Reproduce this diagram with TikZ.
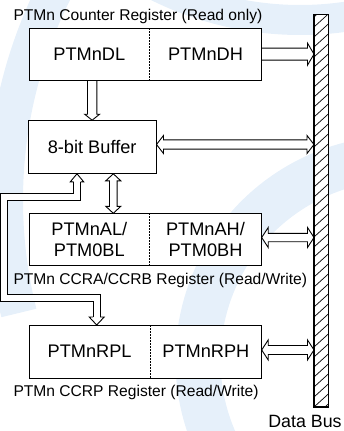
\documentclass[tikz,border=0pt]{standalone}
\usepackage{fontspec}
\setmainfont{Liberation Sans}
\usetikzlibrary{calc}
\pgfdeclarelayer{wm}
\pgfdeclarelayer{arrlayer}
\pgfsetlayers{wm,arrlayer,main}
\definecolor{wmblue}{HTML}{E6F0FA}

% horizontal arrow, head on the right: from #1 to tip #2, shaft half #3, head half #4, head length #5
\newcommand\ArrR[5]{%
  \path[arrsty] let \p1=(#1), \p2=(#2) in
   (\x1,\y2+#3pt) -- (\x2-#5pt,\y2+#3pt) -- (\x2-#5pt,\y2+#4pt) -- (\x2,\y2)
   -- (\x2-#5pt,\y2-#4pt) -- (\x2-#5pt,\y2-#3pt) -- (\x1,\y2-#3pt);}
% horizontal arrow, heads on both ends
\newcommand\ArrLR[5]{%
  \path[arrsty] let \p1=(#1), \p2=(#2) in
   (\x1,\y1) -- (\x1+#5pt,\y1+#4pt) -- (\x1+#5pt,\y1+#3pt) -- (\x2-#5pt,\y1+#3pt)
   -- (\x2-#5pt,\y1+#4pt) -- (\x2,\y1) -- (\x2-#5pt,\y1-#4pt) -- (\x2-#5pt,\y1-#3pt)
   -- (\x1+#5pt,\y1-#3pt) -- (\x1+#5pt,\y1-#4pt) -- cycle;}
% vertical arrow, head at the bottom
\newcommand\ArrD[5]{%
  \path[arrsty] let \p1=(#1), \p2=(#2) in
   (\x2+#3pt,\y1) -- (\x2+#3pt,\y2+#5pt) -- (\x2+#4pt,\y2+#5pt) -- (\x2,\y2)
   -- (\x2-#4pt,\y2+#5pt) -- (\x2-#3pt,\y2+#5pt) -- (\x2-#3pt,\y1);}
% vertical arrow, heads on both ends
\newcommand\ArrUD[5]{%
  \path[arrsty] let \p1=(#1), \p2=(#2) in
   (\x1,\y1) -- (\x1+#4pt,\y1-#5pt) -- (\x1+#3pt,\y1-#5pt) -- (\x1+#3pt,\y2+#5pt)
   -- (\x1+#4pt,\y2+#5pt) -- (\x1,\y2) -- (\x1-#4pt,\y2+#5pt) -- (\x1-#3pt,\y2+#5pt)
   -- (\x1-#3pt,\y1-#5pt) -- (\x1-#4pt,\y1-#5pt) -- cycle;}

\begin{document}
\begin{tikzpicture}[x=1pt,y=-1pt,
  half/.style={inner sep=0pt, outer sep=0pt, align=center, fill=white,
    font=\fontsize{18.2}{21.7}\selectfont},
  lbl/.style={inner sep=0pt, anchor=base west, font=\fontsize{15.6}{18}\selectfont},
  arrsty/.style={draw=black, fill=white, line width=0.9pt, line join=miter},
  boxline/.style={draw=black, line width=1pt},
  divider/.style={draw=black, line width=0.9pt, dash pattern=on 1.5pt off 1.5pt},
  wmband/.style={draw=wmblue, line cap=butt}]
\useasboundingbox (0,0) rectangle (343,431);

% ---- register halves and buffer ----
\node[half, minimum width=120pt, minimum height=51.7pt] (dl) at (89.3,54.15) {PTMnDL};
\node[half, minimum width=112.4pt, minimum height=51.7pt] (dh) at (205.5,54.15) {PTMnDH};
\node[boxline, fill=white, inner sep=0pt, minimum width=127.7pt, minimum height=52.6pt,
  font=\fontsize{18.2}{21.7}\selectfont] (buf) at (92.15,147) {8-bit Buffer};
\node[half, minimum width=120pt, minimum height=52.4pt] (al) at (89.3,239.5) {PTMnAL/\\PTM0BL};
\node[half, minimum width=112.4pt, minimum height=52.4pt] (ah) at (205.5,239.5) {PTMnAH/\\PTM0BH};
\node[half, minimum width=120.7pt, minimum height=53.3pt] (rpl) at (89.65,351.65) {PTMnRPL};
\node[half, minimum width=111.7pt, minimum height=53.3pt] (rph) at (205.85,351.65) {PTMnRPH};

\draw[boxline] (dl.north west) rectangle (dh.south east);
\draw[divider] (dl.north east) -- (dl.south east);
\draw[boxline] (al.north west) rectangle (ah.south east);
\draw[divider] (al.north east) -- (al.south east);
\draw[boxline] (rpl.north west) rectangle (rph.south east);
\draw[divider] (rpl.north east) -- (rpl.south east);

% ---- data bus ----
\node[fill=white, inner sep=0pt, outer sep=0pt, minimum width=14.3pt, minimum height=392.7pt]
  (bus) at (321.15,210.65) {};
\begin{scope}
  \clip (bus.north west) rectangle (bus.south east);
  \foreach \yy in {4,14,...,414}
    \draw[line width=0.7pt] (314,\yy+13) -- (328.3,\yy);
\end{scope}
\draw[boxline, line width=1.1pt] (bus.north west) rectangle (bus.south east);

% ---- labels ----
\node[lbl] (lcnt) at (13.3,20.5) {PTMn Counter Register (Read only)};
\node[lbl] (lccra) at (13.3,284.5) {PTMn CCRA/CCRB Register (Read/Write)};
\node[lbl] (lccrp) at (13.3,396.5) {PTMn CCRP Register (Read/Write)};
\node[inner sep=0pt, anchor=base, font=\fontsize{17.8}{20}\selectfont] (ldb) at (305,427.5) {Data Bus};

% ---- connectors ----
\coordinate (bbA) at ($(buf.east)+(0,-2.5)$);
\coordinate (ahA) at ($(ah.east)+(0,-2)$);
\coordinate (rphA) at ($(rph.east)+(0,-1.7)$);
\coordinate (bufS) at ($(buf.south)+(21.15,0)$);
\coordinate (t1) at ($(buf.south)+(-15.15,0)$);
\coordinate (t2) at ($(rpl.north)+(7.05,0)$);
\coordinate (bend1) at (3.7,197);
\coordinate (bend2) at (3.7,298.3);

\begin{pgfonlayer}{arrlayer}
  \ArrD{buf.north |- dl.south}{buf.north}{4.7}{7.5}{6}
  \ArrR{dh.east}{dh.east -| bus.west}{6}{11}{6.5}
  \ArrLR{bbA}{bbA -| bus.west}{4.6}{9}{7}
  \ArrUD{bufS}{bufS |- al.north}{3.8}{7.5}{7}
  \ArrLR{ahA}{ahA -| bus.west}{4.2}{10}{6.5}
  \ArrLR{rphA}{rphA -| bus.west}{4.5}{10}{6.5}
  % bent connector from buffer to CCRP register
  \draw[line width=0.9pt, double=white, double distance=6.1pt, line join=miter]
    ($(t1)+(0,8)$) |- (bend1) -- (bend2) -| ($(t2)+(0,-8)$);
  \path[arrsty] let \p1=(t1) in
    (\x1-3.5pt,\y1-8pt) -- (\x1-6.7pt,\y1-8pt) -- (\x1,\y1) -- (\x1+6.7pt,\y1-8pt) -- (\x1+3.5pt,\y1-8pt);
  \path[arrsty] let \p1=(t2) in
    (\x1-3.5pt,\y1+8pt) -- (\x1-7.5pt,\y1+8pt) -- (\x1,\y1) -- (\x1+7.5pt,\y1+8pt) -- (\x1+3.5pt,\y1+8pt);
\end{pgfonlayer}

% ---- faint background watermark ----
\begin{pgfonlayer}{wm}
  \draw[wmband, line width=36pt] (472,200) ++(207:467) arc[start angle=207, end angle=166, radius=467];
  \draw[wmband, line width=45pt] (400,360) ++(150:202) arc[start angle=150, end angle=290, radius=202];
  \draw[wmband, line width=30pt] (300,-300) ++(60:320) arc[start angle=60, end angle=130, radius=320];
\end{pgfonlayer}
\end{tikzpicture}
\end{document}
